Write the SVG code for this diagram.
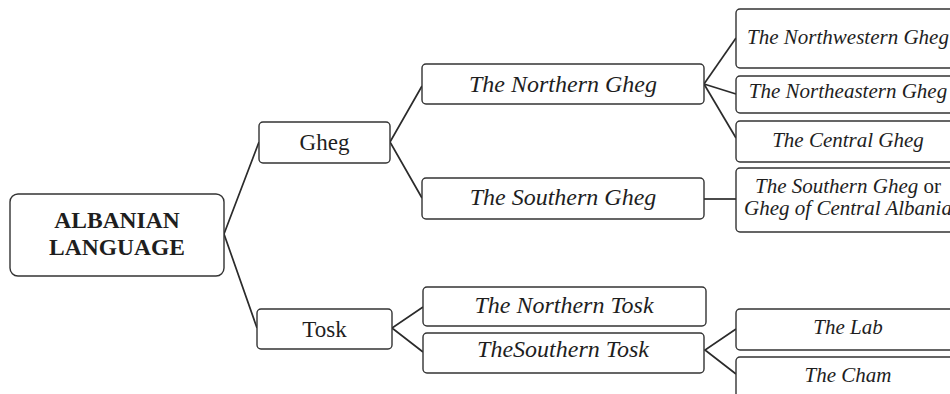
<svg xmlns="http://www.w3.org/2000/svg" width="950" height="394" viewBox="0 0 950 394">
  <style>
    .box { fill: #ffffff; stroke: #333333; stroke-width: 1.4; }
    .link { fill: none; stroke: #2b2b2b; stroke-width: 1.7; }
    text { font-family: "Liberation Serif", "Times New Roman", serif; fill: #1e1e1e; text-anchor: middle; }
    .root { font-weight: bold; font-size: 23.5px; }
    .l1 { font-size: 23px; }
    .l2 { font-style: italic; font-size: 24px; }
    .l3 { font-style: italic; font-size: 21px; }
    .plain { font-style: normal; }
  </style>
  <rect width="950" height="394" fill="#ffffff"/>

  <!-- connectors -->
  <g id="connectors">
    <polyline class="link" points="259,142 224,234 257,328"/>
    <polyline class="link" points="422,86 390,142 422,198"/>
    <polyline class="link" points="423,307 392,328 423,352"/>
    <line class="link" x1="704" y1="84" x2="736" y2="38"/>
    <line class="link" x1="704" y1="84" x2="736" y2="94"/>
    <line class="link" x1="704" y1="84" x2="736" y2="138"/>
    <line class="link" x1="704" y1="199" x2="736" y2="199"/>
    <polyline class="link" points="736,329 705,350 736,374"/>
  </g>

  <g id="albanian-language">
    <rect class="box" x="10" y="194" width="214" height="82" rx="8"/>
    <text class="root" x="117" y="228">ALBANIAN</text>
    <text class="root" x="117" y="255">LANGUAGE</text>
  </g>

  <g id="gheg">
    <rect class="box" x="259" y="122" width="131" height="41" rx="4"/>
    <text class="l1" x="324.5" y="150">Gheg</text>
  </g>

  <g id="tosk">
    <rect class="box" x="257" y="309" width="135" height="40" rx="4"/>
    <text class="l1" x="324.5" y="337">Tosk</text>
  </g>

  <g id="northern-gheg">
    <rect class="box" x="422" y="64" width="282" height="40" rx="4"/>
    <text class="l2" x="563" y="92">The Northern Gheg</text>
  </g>

  <g id="southern-gheg">
    <rect class="box" x="422" y="178" width="282" height="41" rx="4"/>
    <text class="l2" x="563" y="205">The Southern Gheg</text>
  </g>

  <g id="northern-tosk">
    <rect class="box" x="423" y="287" width="283" height="39" rx="4"/>
    <text class="l2" x="564" y="313">The Northern Tosk</text>
  </g>

  <g id="southern-tosk">
    <rect class="box" x="423" y="333" width="281" height="40" rx="4"/>
    <text class="l2" x="563" y="357">TheSouthern Tosk</text>
  </g>

  <g id="northwestern-gheg">
    <rect class="box" x="736" y="9" width="224" height="59" rx="4"/>
    <text class="l3" x="848" y="44">The Northwestern Gheg</text>
  </g>

  <g id="northeastern-gheg">
    <rect class="box" x="736" y="76" width="224" height="37" rx="4"/>
    <text class="l3" x="848" y="98">The Northeastern Gheg</text>
  </g>

  <g id="central-gheg">
    <rect class="box" x="736" y="121" width="224" height="41" rx="4"/>
    <text class="l3" x="848" y="147">The Central Gheg</text>
  </g>

  <g id="southern-gheg-central-albania">
    <rect class="box" x="736" y="168" width="224" height="64" rx="4"/>
    <text class="l3" x="848" y="193">The Southern Gheg <tspan class="plain">or</tspan></text>
    <text class="l3" x="848" y="215">Gheg of Central Albania</text>
  </g>

  <g id="lab">
    <rect class="box" x="736" y="309" width="224" height="41" rx="4"/>
    <text class="l3" x="848" y="334">The Lab</text>
  </g>

  <g id="cham">
    <rect class="box" x="736" y="357" width="224" height="50" rx="4"/>
    <text class="l3" x="848" y="382">The Cham</text>
  </g>
</svg>
